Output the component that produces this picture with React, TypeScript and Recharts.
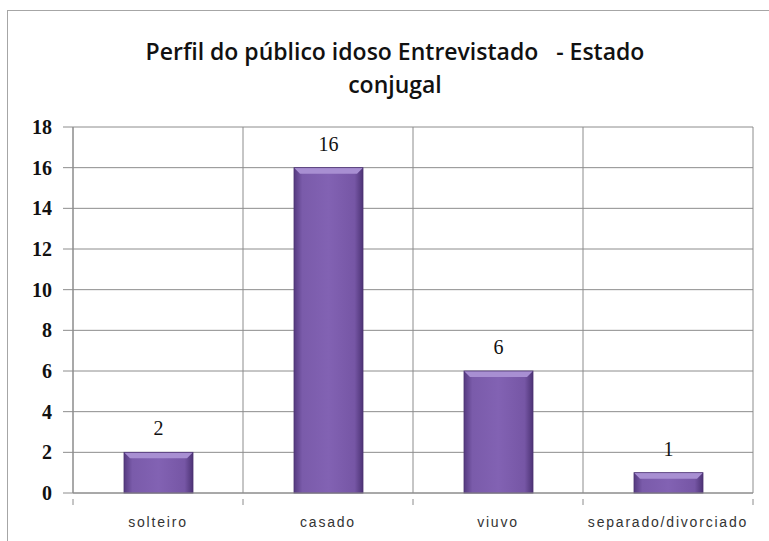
import { BarChart, Bar, XAxis, YAxis, CartesianGrid, LabelList } from 'recharts';

const categories = ['solteiro', 'casado', 'viuvo', 'separado/divorciado'];
const counts = [2, 16, 6, 1];
const yTicks = [0, 2, 4, 6, 8, 10, 12, 14, 16, 18];

const data = categories.map((name, i) => ({ name, value: counts[i] }));

// bar with a little bevel on top, like the old office charts
const BevelBar = (props: any) => {
  const { x, y, width, height } = props;
  if (!height || height <= 0) return null;
  const b = Math.min(6, height / 2);
  return (
    <g>
      <rect x={x} y={y} width={width} height={height} fill="url(#barGrad)" />
      <polygon
        points={`${x},${y} ${x + width},${y} ${x + width - b},${y + b} ${x + b},${y + b}`}
        fill="#a88fd2"
      />
      <rect x={x} y={y} width={width} height={height} fill="none" stroke="#4c3372" strokeWidth={0.8} />
    </g>
  );
};

// category label plus a small tick mark on the left boundary of each band
const CategoryTick = (props: any) => {
  const { x, y, payload, index, visibleTicksCount } = props;
  const half = payload.offset || 0;
  const axisY = y - 18;
  return (
    <g>
      <line x1={x - half} y1={axisY} x2={x - half} y2={axisY + 6} stroke="#8c8c8c" />
      {index === visibleTicksCount - 1 && (
        <line x1={x + half} y1={axisY} x2={x + half} y2={axisY + 6} stroke="#8c8c8c" />
      )}
      <text
        x={x}
        y={y}
        dy="0.71em"
        textAnchor="middle"
        fill="#333"
        fontSize={14}
        fontFamily='"Liberation Sans", sans-serif'
        letterSpacing={1.8}
      >
        {payload.value}
      </text>
    </g>
  );
};

export default function App() {
  return (
    <div style={{ position: 'absolute', left: 0, top: 0, width: 769, height: 541, overflow: 'hidden', background: '#fff' }}>
      <div style={{ position: 'absolute', left: 7, top: 10, width: 800, height: 600, border: '1px solid #a6a6a6' }} />
      <div
        style={{
          position: 'absolute', left: 0, top: 35, width: 790, textAlign: 'center',
          fontFamily: '"Open Sans", sans-serif', fontWeight: 600, fontSize: 23, lineHeight: '33px', color: '#111',
        }}
      >
        Perfil do público idoso Entrevistado&nbsp;&nbsp; - Estado
        <br />
        conjugal
      </div>
      <svg width={0} height={0} style={{ position: 'absolute' }}>
        <defs>
          <linearGradient id="barGrad" x1="0" y1="0" x2="1" y2="0">
            <stop offset="0%" stopColor="#553a80" />
            <stop offset="12%" stopColor="#7a5baa" />
            <stop offset="50%" stopColor="#8262b3" />
            <stop offset="88%" stopColor="#7656a5" />
            <stop offset="100%" stopColor="#4d3375" />
          </linearGradient>
        </defs>
      </svg>
      <div style={{ position: 'absolute', left: 0, top: 0 }}>
        <BarChart width={769} height={541} data={data} margin={{ top: 127, right: 16, left: 13, bottom: 18 }} barSize={69}>
          <CartesianGrid
            stroke="#8c8c8c"
            strokeWidth={1}
            verticalCoordinatesGenerator={({ offset }: any) =>
              [0, 1, 2, 3, 4].map((i) => offset.left + (i * offset.width) / categories.length)
            }
          />
          <XAxis
            dataKey="name"
            height={30}
            stroke="#8c8c8c"
            tickLine={false}
            tickMargin={18}
            tick={<CategoryTick />}
          />
          <YAxis
            domain={[0, 18]}
            ticks={yTicks}
            width={60}
            tickSize={10}
            tickMargin={11}
            stroke="#8c8c8c"
            tick={{ fill: '#111', fontSize: 20, fontWeight: 'bold', fontFamily: '"Liberation Serif", serif' }}
          />
          <Bar dataKey="value" shape={<BevelBar />} isAnimationActive={false}>
            <LabelList
              dataKey="value"
              position="top"
              offset={17}
              style={{ fill: '#111', fontSize: 20, fontFamily: '"Liberation Serif", serif' }}
            />
          </Bar>
        </BarChart>
      </div>
    </div>
  );
}
